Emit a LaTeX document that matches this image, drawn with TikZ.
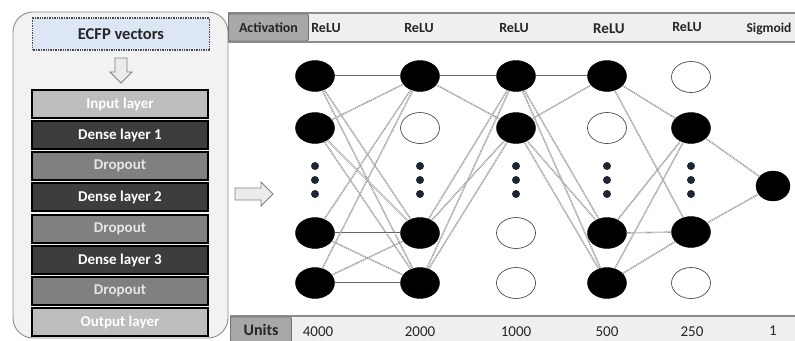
\documentclass[tikz,border=0pt]{standalone}
\usepackage{fontspec}
\setmainfont{Carlito}
\usetikzlibrary{shapes.geometric}
\definecolor{panelfill}{HTML}{F2F2F2}
\definecolor{barfill}{HTML}{EFEFEF}
\definecolor{tabfill}{HTML}{A8A8A8}
\definecolor{ecfpfill}{HTML}{DCE6F4}
\definecolor{dotcol}{HTML}{1E2535}
\begin{document}
\begin{tikzpicture}[x=1pt,y=-1pt,
  panel/.style={draw=black!45, fill=panelfill, line width=0.9pt, rounded corners=20pt},
  layerbox/.style={draw=black, line width=1.3pt, minimum width=176pt, minimum height=28pt,
    inner sep=0pt, font=\fontsize{15}{17}\selectfont\bfseries},
  inlayer/.style={layerbox, fill=black!26, text=white},
  denselayer/.style={layerbox, fill=black!76, text=white},
  droplayer/.style={layerbox, fill=black!50, text=black!10},
  bar/.style={fill=barfill, draw=black!45, line width=1.2pt},
  tab/.style={fill=tabfill, draw=black!55, line width=0.8pt, rounded corners=2pt},
  tabtext/.style={font=\fontsize{14}{16}\selectfont\bfseries, text=black!85},
  actlabel/.style={font=\fontsize{14}{16}\selectfont\bfseries, text=black!85},
  unitlabel/.style={font=\fontsize{15}{17}\selectfont, text=black!85},
  neuron/.style={ellipse, minimum width=39pt, minimum height=31pt, inner sep=0pt},
  on/.style={neuron, fill=black, draw=black},
  off/.style={neuron, fill=white, draw=black!70, line width=0.7pt},
  dotn/.style={circle, fill=dotcol, minimum size=8pt, inner sep=0pt},
  link/.style={draw=black!60, line width=0.35pt, double=white, double distance=0.45pt},
  blockarrow/.style={draw=black!50, fill=black!8, line width=0.8pt, line join=miter}
]
\useasboundingbox (0,0) rectangle (795,340);

% left panel with the layer stack
\draw[panel] (13,12) rectangle (228,338);
\node[draw=black!70, dash pattern=on 1pt off 0.7pt, line width=1.1pt, fill=ecfpfill,
  minimum width=177pt, minimum height=32pt, inner sep=0pt,
  font=\fontsize{16.5}{18}\selectfont\bfseries, text=black!85] (ecfp) at (121,34) {ECFP vectors};

% hollow arrow below the input vectors
\draw[blockarrow] (115,58) -- (127,58) -- (127,72) -- (132,72) -- (121,83)
  -- (110,72) -- (115,72) -- cycle;

\node[inlayer]    (l1) at (120,104) {Input layer};
\node[denselayer] (l2) at (120,135) {Dense layer 1};
\node[droplayer]  (l3) at (120,166) {Dropout};
\node[denselayer] (l4) at (120,197) {Dense layer 2};
\node[droplayer]  (l5) at (120,229) {Dropout};
\node[denselayer] (l6) at (120,260) {Dense layer 3};
\node[droplayer]  (l7) at (120,291) {Dropout};
\node[inlayer]    (l8) at (120,322) {Output layer};

% hollow arrow pointing into the network
\draw[blockarrow] (235,188) -- (261,188) -- (261,182) -- (273,194) -- (261,206)
  -- (261,200) -- (235,200) -- cycle;

% activation bar
\draw[bar] (229,13) rectangle (800,42);
\node[tab, minimum width=80pt, minimum height=27pt, inner sep=0pt] (acttab) at (268.5,27.5) {};
\node[tabtext] at (acttab) {Activation};
\node[actlabel] (a1) at (326,28) {ReLU};
\node[actlabel] (a2) at (419,28) {ReLU};
\node[actlabel] (a3) at (514,28) {ReLU};
\node[actlabel, font=\fontsize{15}{17}\selectfont\bfseries] (a4) at (609,29) {ReLU};
\node[actlabel] (a5) at (687,27) {ReLU};
\node[actlabel, font=\fontsize{13.5}{15}\selectfont\bfseries] (a6) at (769,29) {Sigmoid};

% units bar
\draw[bar] (231,316) rectangle (800,345);
\node[tab, minimum width=61pt, minimum height=26pt, inner sep=0pt] (unittab) at (261,330) {};
\node[tabtext, font=\fontsize{16}{18}\selectfont\bfseries] at (unittab.center) {Units};
\node[unitlabel] (u1) at (318,332) {4000};
\node[unitlabel] (u2) at (420,332) {2000};
\node[unitlabel] (u3) at (516,332) {1000};
\node[unitlabel] (u4) at (607,332) {500};
\node[unitlabel] (u5) at (692,332) {250};
\node[unitlabel] (u6) at (773,331) {1};

% neurons
\node[on]  (n11) at (315,76) {};
\node[on]  (n12) at (315,128) {};
\node[on]  (n13) at (315,233) {};
\node[on]  (n14) at (315,283) {};
\node[on]  (n21) at (420,76) {};
\node[off] (n22) at (420,128) {};
\node[on]  (n23) at (420,233) {};
\node[on]  (n24) at (420,283) {};
\node[on]  (n31) at (516,76) {};
\node[on]  (n32) at (516,128) {};
\node[off] (n33) at (516,233) {};
\node[off] (n34) at (516,283) {};
\node[on]  (n41) at (607,76) {};
\node[off] (n42) at (607,128) {};
\node[on]  (n43) at (607,233) {};
\node[on]  (n44) at (607,283) {};
\node[off] (n51) at (691,77) {};
\node[on]  (n52) at (691,128) {};
\node[on]  (n53) at (691,232) {};
\node[off] (n54) at (691,283) {};
\node[on, minimum width=34pt, minimum height=30pt] (out) at (773,186) {};

% ellipsis dots in each hidden column
\foreach \c/\x in {1/315,2/420,3/516,4/607,5/691}{
  \node[dotn] (d\c a) at (\x,166) {};
  \node[dotn] (d\c b) at (\x,180) {};
  \node[dotn] (d\c c) at (\x,194) {};
}

% connections between active units
\foreach \a in {n11,n12,n13,n14}{
  \foreach \b in {n21,n23,n24}{ \draw[link] (\a) -- (\b); }
}
\foreach \a in {n21,n23,n24}{
  \foreach \b in {n31,n32}{ \draw[link] (\a) -- (\b); }
}
\foreach \a in {n31,n32}{
  \foreach \b in {n41,n43,n44}{ \draw[link] (\a) -- (\b); }
}
\foreach \a in {n41,n43,n44}{
  \foreach \b in {n52,n53}{ \draw[link] (\a) -- (\b); }
}
\foreach \a in {n52,n53}{ \draw[link] (\a) -- (out); }
\end{tikzpicture}
\end{document}
